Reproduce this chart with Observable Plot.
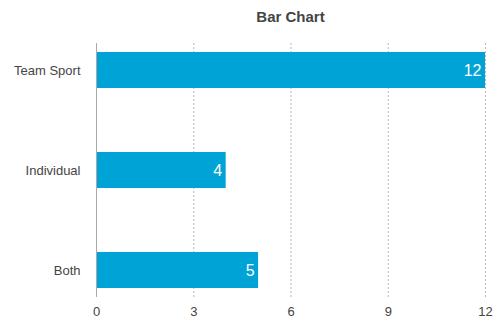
<!DOCTYPE html>
<html>
<head>
<meta charset="utf-8">
<script src="https://cdn.jsdelivr.net/npm/d3@7"></script>
<script src="https://cdn.jsdelivr.net/npm/@observablehq/plot@0.6"></script>
<style>
  html, body { margin: 0; padding: 0; background: #fff; }
  #wrap { position: relative; width: 493px; height: 320px; font-family: "Helvetica Neue", Helvetica, "Liberation Sans", Arial, sans-serif; }
  #title { position: absolute; left: 96px; width: 389px; top: 8px; text-align: center; font-size: 15px; font-weight: 600; color: #444; }
</style>
</head>
<body>
<div id="wrap"><div id="title">Bar Chart</div></div>
<script>
const categories = ["Team Sport", "Individual", "Both"];
const values = [12, 4, 5];
const xTicks = [0, 3, 6, 9, 12];

const data = categories.map((c, i) => ({category: c, value: values[i]}));

const chart = Plot.plot({
  width: 493,
  height: 320,
  marginTop: 43,
  marginBottom: 23,
  marginLeft: 96,
  marginRight: 8,
  style: {fontFamily: "'Helvetica Neue', Helvetica, 'Liberation Sans', Arial, sans-serif", fontSize: "13px", color: "#444", background: "#fff"},
  x: {domain: [0, 12], ticks: xTicks, label: null},
  y: {domain: categories, paddingInner: 0.64, paddingOuter: 0.09, label: null},
  marks: [
    Plot.gridX(xTicks.filter(d => d > 0), {stroke: "#999", strokeOpacity: 0.7, strokeDasharray: "2,2"}),
    Plot.axisX({ticks: xTicks, tickSize: 0, tickPadding: 9, fontSize: 13, fill: "#444", label: null}),
    Plot.axisY({tickSize: 0, tickPadding: 16, fontSize: 13, fill: "#444", label: null}),
    Plot.barX(data, {x: "value", y: "category", fill: "#00a3d6"}),
    Plot.ruleX([0], {stroke: "#aaa", strokeWidth: 1}),
    Plot.text(data, {x: "value", y: "category", text: d => String(d.value), textAnchor: "end", dx: -4, fill: "#fff", fontSize: 16})
  ]
});
document.getElementById("wrap").appendChild(chart);
chart.style.position = "absolute";
chart.style.left = "0";
chart.style.top = "0";
document.getElementById("wrap").appendChild(document.getElementById("title"));
</script>
</body>
</html>
